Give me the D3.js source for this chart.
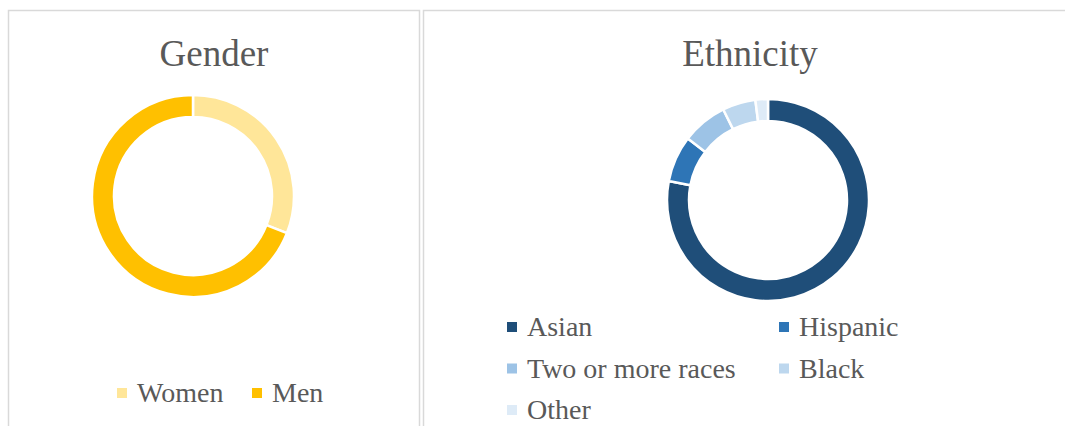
<!DOCTYPE html>
<html>
<head>
<meta charset="utf-8">
<script src="https://cdn.jsdelivr.net/npm/d3@7"></script>
<style>
  body { margin: 0; background: #fff; }
</style>
</head>
<body>
<div id="chart"></div>
<script>
// Gender split (percent)
const genderLabels = ["Women", "Men"];
const genderValues = [31, 69];
const genderColors = ["#FFE699", "#FFC000"];

// Ethnicity split (percent)
const ethnicityLabels = ["Asian", "Hispanic", "Two or more races", "Black", "Other"];
const ethnicityValues = [78, 7.4, 7.3, 5.3, 2.0];
const ethnicityColors = ["#1F4E79", "#2E75B6", "#9DC3E6", "#BDD7EE", "#DEEBF7"];

const width = 1065, height = 426;
const fontStack = "'Liberation Serif', 'DejaVu Serif', serif";

const svg = d3.select("#chart")
  .append("svg")
  .attr("width", width)
  .attr("height", height);

// Panel frames
svg.append("rect")
  .attr("x", 8.5).attr("y", 10.5)
  .attr("width", 411).attr("height", 430)
  .attr("fill", "none").attr("stroke", "#d9d9d9").attr("stroke-width", 1.5);

svg.append("rect")
  .attr("x", 423.5).attr("y", 10.5)
  .attr("width", 660).attr("height", 430)
  .attr("fill", "none").attr("stroke", "#d9d9d9").attr("stroke-width", 1.5);

const pie = d3.pie().sort(null).value((d) => d.value);
const arc = d3.arc().innerRadius(79).outerRadius(101);

function drawDonut(cfg) {
  const data = cfg.labels.map((l, i) => ({ label: l, value: cfg.values[i], color: cfg.colors[i] }));

  // Title
  svg.append("text")
    .attr("x", cfg.titleX)
    .attr("y", 66)
    .attr("text-anchor", "middle")
    .attr("font-family", fontStack)
    .attr("font-size", 37)
    .attr("fill", "#595959")
    .text(cfg.title);

  // Donut
  const g = svg.append("g")
    .attr("transform", "translate(" + cfg.cx + "," + cfg.cy + ")");

  g.selectAll("path")
    .data(pie(data))
    .enter()
    .append("path")
    .attr("d", arc)
    .attr("fill", (d) => d.data.color)
    .attr("stroke", "#fff")
    .attr("stroke-width", 2.5);

  // Legend
  const items = svg.append("g")
    .selectAll(".item")
    .data(data)
    .enter()
    .append("g")
    .attr("class", "item")
    .attr("transform", (d, i) => {
      const col = i % cfg.cols, row = Math.floor(i / cfg.cols);
      return "translate(" + cfg.colX[col] + "," + (cfg.legendY + row * cfg.rowH) + ")";
    });

  items.append("rect")
    .attr("x", 0).attr("y", -14)
    .attr("width", 10).attr("height", 10)
    .attr("fill", (d) => d.color);

  items.append("text")
    .attr("x", 20)
    .attr("y", 0)
    .attr("font-family", fontStack)
    .attr("font-size", 28)
    .attr("fill", "#595959")
    .text((d) => d.label);
}

drawDonut({
  title: "Gender", titleX: 214,
  labels: genderLabels, values: genderValues, colors: genderColors,
  cx: 193, cy: 196,
  cols: 2, colX: [117, 252], legendY: 402, rowH: 41
});

drawDonut({
  title: "Ethnicity", titleX: 750,
  labels: ethnicityLabels, values: ethnicityValues, colors: ethnicityColors,
  cx: 768, cy: 200,
  cols: 2, colX: [507, 779], legendY: 336, rowH: 41.5
});
</script>
</body>
</html>
